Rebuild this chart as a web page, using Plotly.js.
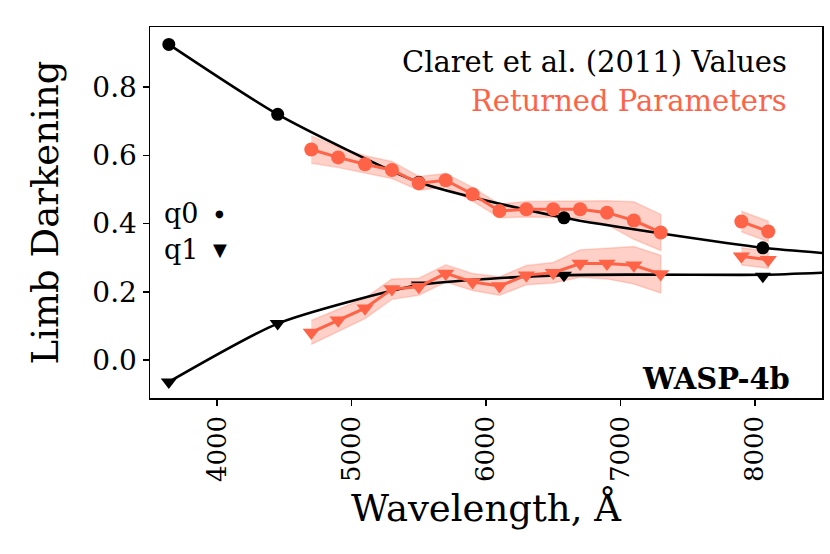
<!DOCTYPE html>
<html>
<head>
<meta charset="utf-8">
<script src="https://cdn.plot.ly/plotly-3.0.1.min.js"></script>
<style>
  body { margin: 0; background: #fff; }
  #plot_area { width: 830px; height: 554px; }
</style>
</head>
<body>
<div id="plot_area"></div>
<script>
// Claret et al. (2011) values (black)
const claretWl = [3640, 4450, 5500, 6580, 8060];
const claretQ0 = [0.925, 0.720, 0.521, 0.417, 0.329];
const claretQ1 = [-0.064, 0.107, 0.220, 0.249, 0.246];
// the black curve carries on to the right edge
const claretLineWl = [3640, 4450, 5500, 6580, 8060, 8500];
const claretLineQ0 = [0.925, 0.720, 0.521, 0.417, 0.329, 0.314];
const claretLineQ1 = [-0.064, 0.107, 0.220, 0.249, 0.250, 0.256];

// Returned parameters (red), first block
const wlA = [4700, 4900, 5100, 5300, 5500, 5700, 5900, 6100, 6300, 6500, 6700, 6900, 7100, 7300];
const q0A = [0.617, 0.594, 0.574, 0.557, 0.518, 0.527, 0.486, 0.437, 0.442, 0.442, 0.442, 0.432, 0.409, 0.374];
const q0ErrA = [0.04, 0.03, 0.025, 0.025, 0.02, 0.02, 0.02, 0.02, 0.023, 0.024, 0.026, 0.035, 0.055, 0.053];
const q1A = [0.081, 0.117, 0.152, 0.208, 0.215, 0.254, 0.229, 0.217, 0.249, 0.256, 0.283, 0.283, 0.278, 0.252];
const q1ErrA = [0.035, 0.033, 0.03, 0.03, 0.025, 0.025, 0.025, 0.027, 0.028, 0.03, 0.04, 0.045, 0.055, 0.055];

// Returned parameters, second block
const wlB = [7900, 8100];
const q0B = [0.406, 0.377];
const q0ErrB = [0.03, 0.03];
const q1B = [0.304, 0.294];
const q1ErrB = [0.025, 0.025];

const xTicks = [4000, 5000, 6000, 7000, 8000];
const yTicks = [0.0, 0.2, 0.4, 0.6, 0.8];

const red = 'rgb(255,99,71)';
const band = 'rgba(255,99,71,0.3)';
const serif = 'DejaVu Serif, serif';

function bandTrace(wl, vals, errs) {
    const upper = vals.map((v, i) => v + errs[i]);
    const lower = vals.map((v, i) => v - errs[i]);
    return {
        x: wl.concat(wl.slice().reverse()),
        y: upper.concat(lower.slice().reverse()),
        type: 'scatter',
        mode: 'lines',
        fill: 'toself',
        fillcolor: band,
        line: { color: 'rgba(255,99,71,0.25)', width: 1.5 },
        hoverinfo: 'skip',
        showlegend: false
    };
}

function redTrace(wl, vals, symbol) {
    return {
        x: wl, y: vals,
        type: 'scatter',
        mode: 'lines+markers',
        line: { color: red, width: 3 },
        marker: { color: red, size: symbol === 'circle' ? 14 : 15, symbol: symbol },
        showlegend: false
    };
}

const traces = [
    bandTrace(wlA, q0A, q0ErrA),
    bandTrace(wlB, q0B, q0ErrB),
    bandTrace(wlA, q1A, q1ErrA),
    bandTrace(wlB, q1B, q1ErrB),
    // black curves
    { x: claretLineWl, y: claretLineQ0, type: 'scatter', mode: 'lines',
      line: { color: 'black', width: 2.6, shape: 'spline', smoothing: 0.6 }, showlegend: false },
    { x: claretLineWl, y: claretLineQ1, type: 'scatter', mode: 'lines',
      line: { color: 'black', width: 2.6, shape: 'spline', smoothing: 0.6 }, showlegend: false },
    { x: claretWl, y: claretQ0, type: 'scatter', mode: 'markers',
      marker: { color: 'black', size: 13, symbol: 'circle' }, showlegend: false },
    { x: claretWl, y: claretQ1, type: 'scatter', mode: 'markers',
      marker: { color: 'black', size: 14, symbol: 'triangle-down' }, showlegend: false },
    // red series on top
    redTrace(wlA, q0A, 'circle'),
    redTrace(wlB, q0B, 'circle'),
    redTrace(wlA, q1A, 'triangle-down'),
    redTrace(wlB, q1B, 'triangle-down')
];

const layout = {
    width: 830,
    height: 554,
    margin: { l: 150, r: 8, t: 27, b: 156 },
    paper_bgcolor: 'white',
    plot_bgcolor: 'white',
    font: { family: serif, color: 'black', size: 28 },
    xaxis: {
        range: [3500, 8500],
        tickvals: xTicks,
        ticktext: xTicks.map(String),
        tickangle: -90,
        ticks: 'outside', ticklen: 6, tickwidth: 1.5, tickcolor: 'black',
        showgrid: false, zeroline: false,
        showline: true, linecolor: 'black', linewidth: 1.5, mirror: true,
        tickfont: { family: serif, size: 26 },
        title: { text: 'Wavelength, Å', font: { family: serif, size: 37 }, standoff: 14 }
    },
    yaxis: {
        range: [-0.111, 0.976],
        tickvals: yTicks,
        ticktext: yTicks.map(v => v.toFixed(1)),
        ticks: 'outside', ticklen: 6, tickwidth: 1.5, tickcolor: 'black',
        showgrid: false, zeroline: false,
        showline: true, linecolor: 'black', linewidth: 1.5, mirror: true,
        tickfont: { family: serif, size: 28 },
        title: { text: 'Limb Darkening', font: { family: serif, size: 37 }, standoff: 22 }
    },
    annotations: [
        { text: 'Claret et al. (2011) Values', xref: 'paper', yref: 'paper', x: 0.951, y: 0.906,
          xanchor: 'right', yanchor: 'middle', showarrow: false, font: { family: serif, size: 29, color: 'black' } },
        { text: 'Returned Parameters', xref: 'paper', yref: 'paper', x: 0.951, y: 0.80,
          xanchor: 'right', yanchor: 'middle', showarrow: false, font: { family: serif, size: 29, color: red } },
        { text: '<b>WASP-4b</b>', xref: 'paper', yref: 'paper', x: 0.955, y: 0.05,
          xanchor: 'right', yanchor: 'middle', showarrow: false, font: { family: serif, size: 29, color: 'black' } },
        { text: 'q0', xref: 'paper', yref: 'paper', x: 0.018, y: 0.496,
          xanchor: 'left', yanchor: 'middle', showarrow: false, font: { family: serif, size: 27 } },
        { text: 'q1', xref: 'paper', yref: 'paper', x: 0.018, y: 0.399,
          xanchor: 'left', yanchor: 'middle', showarrow: false, font: { family: serif, size: 27 } },
        { text: '●', xref: 'paper', yref: 'paper', x: 0.104, y: 0.496,
          xanchor: 'center', yanchor: 'middle', showarrow: false, font: { family: 'DejaVu Sans', size: 10 } },
        { text: '▼', xref: 'paper', yref: 'paper', x: 0.104, y: 0.399,
          xanchor: 'center', yanchor: 'middle', showarrow: false, font: { family: 'DejaVu Sans', size: 18 } }
    ]
};

Plotly.newPlot('plot_area', traces, layout, { staticPlot: true });
</script>
</body>
</html>
